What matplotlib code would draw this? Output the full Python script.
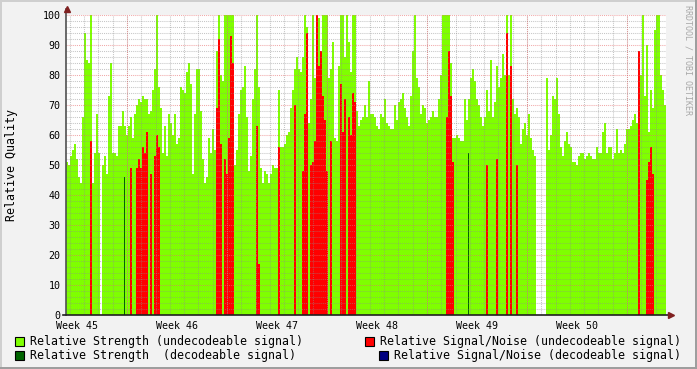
import numpy as np
import matplotlib.pyplot as plt
from matplotlib.patches import Rectangle

plt.rcParams['font.family'] = ['DejaVu Sans Mono']

# one value per 2-pixel column, 300 columns over the six weeks
strength = [
    51, 50, 53, 55, 57, 52, 46, 44, 66, 94, 85, 84, 100, 44, 54, 67, 54, 0, 50, 53, 47, 73, 84, 54, 54,
    53, 63, 63, 68, 63, 60, 63, 66, 59, 67, 70, 72, 71, 73, 72, 72, 67, 68, 75, 82, 100, 76, 69, 54, 63,
    53, 67, 64, 60, 67, 57, 59, 76, 75, 74, 81, 84, 77, 47, 67, 82, 82, 68, 52, 44, 46, 59, 54, 62, 55,
    88, 100, 80, 78, 100, 100, 100, 100, 100, 50, 55, 67, 75, 76, 83, 66, 48, 53, 72, 82, 100, 76, 49, 44, 48,
    47, 44, 47, 50, 49, 49, 75, 56, 56, 57, 60, 61, 69, 75, 82, 86, 82, 81, 86, 100, 96, 64, 72, 100, 79,
    100, 99, 82, 100, 100, 100, 79, 82, 91, 59, 58, 83, 100, 100, 86, 100, 91, 81, 100, 100, 68, 63, 65, 66, 70,
    66, 78, 67, 67, 66, 63, 62, 67, 66, 72, 64, 63, 62, 62, 70, 65, 71, 72, 74, 69, 66, 63, 73, 88, 100,
    79, 76, 67, 70, 69, 64, 65, 66, 68, 66, 66, 72, 80, 100, 100, 100, 100, 84, 59, 59, 60, 59, 58, 58, 72,
    65, 72, 79, 82, 78, 72, 70, 66, 63, 66, 75, 68, 85, 66, 71, 83, 76, 79, 87, 80, 100, 80, 100, 72, 67,
    69, 66, 57, 62, 64, 60, 67, 59, 55, 53, 0, 0, 0, 0, 0, 79, 55, 60, 73, 72, 79, 67, 56, 53, 58,
    61, 57, 56, 51, 51, 50, 53, 54, 54, 52, 53, 54, 53, 52, 52, 56, 54, 54, 61, 64, 54, 56, 56, 52, 54,
    62, 54, 55, 54, 57, 62, 62, 63, 65, 67, 64, 74, 80, 100, 73, 90, 61, 75, 69, 95, 100, 100, 80, 75, 70,
]

noise = [
    0, 0, 0, 0, 0, 0, 0, 0, 0, 0, 0, 0, 58, 0, 0, 0, 0, 0, 0, 0, 0, 0, 0, 0, 0,
    0, 0, 0, 0, 0, 0, 0, 49, 0, 0, 49, 52, 49, 56, 54, 61, 0, 47, 0, 53, 60, 56, 0, 0, 0,
    0, 0, 0, 0, 0, 0, 0, 0, 0, 0, 0, 0, 0, 0, 0, 0, 0, 0, 0, 0, 0, 0, 0, 0, 0,
    69, 92, 57, 0, 52, 47, 59, 93, 84, 0, 0, 0, 0, 0, 0, 0, 0, 0, 0, 0, 63, 17, 0, 0, 0,
    0, 0, 0, 0, 0, 0, 56, 0, 0, 0, 0, 0, 0, 0, 70, 0, 0, 0, 48, 67, 94, 0, 50, 51, 58,
    100, 83, 88, 73, 65, 48, 0, 58, 0, 0, 0, 0, 77, 61, 72, 0, 66, 60, 74, 71, 0, 0, 0, 0, 0,
    0, 0, 0, 0, 0, 0, 0, 0, 0, 0, 0, 0, 0, 0, 0, 0, 0, 0, 0, 0, 0, 0, 0, 0, 0,
    0, 0, 0, 0, 0, 0, 0, 0, 0, 0, 0, 0, 0, 0, 0, 66, 88, 73, 51, 0, 0, 0, 0, 0, 0,
    0, 0, 0, 0, 0, 0, 0, 0, 0, 0, 50, 0, 0, 0, 0, 52, 0, 0, 0, 0, 94, 0, 83, 0, 0,
    50, 0, 0, 0, 0, 0, 0, 0, 0, 0, 0, 0, 0, 0, 0, 0, 0, 0, 0, 0, 0, 0, 0, 0, 0,
    0, 0, 0, 0, 0, 0, 0, 0, 0, 0, 0, 0, 0, 0, 0, 0, 0, 0, 0, 0, 0, 0, 0, 0, 0,
    0, 0, 0, 0, 0, 0, 0, 0, 0, 0, 0, 88, 0, 0, 0, 45, 51, 56, 47, 0, 0, 0, 0, 0, 0,
]

# decodeable strength shows only in a few columns
dec_cols = [29, 201]
dec_vals = [46, 54]

week_labels = ['Week 45', 'Week 46', 'Week 47', 'Week 48', 'Week 49', 'Week 50']
week_pos = [11, 111, 211, 311, 411, 511]

W, H = 697, 369
fig = plt.figure(figsize=(W / 100, H / 100), dpi=100, facecolor='#f2f2f2')
ax = fig.add_axes([66 / W, 54 / H, 600 / W, 300 / H])
ax.set_facecolor('white')

x = np.arange(len(strength)) * 2
ax.bar(x, strength, width=2, align='edge', color='#7fff00', lw=0, antialiased=False, zorder=1)
ax.bar(x, noise, width=2, align='edge', color='#ff0000', lw=0, antialiased=False, zorder=2)
ax.bar(np.array(dec_cols) * 2, dec_vals, width=1, align='edge', color='#006400', lw=0,
       antialiased=False, zorder=3)

ax.set_xlim(0, 600)
ax.set_ylim(0, 100)

# grid: minor every day / 2 units, major every week / 10 units
dash = (0, (1, 1))
for d in np.arange(61 % (100 / 7), 600, 100 / 7):
    ax.axvline(d, color='#8f8f8f', alpha=0.5, lw=0.75, ls=dash, zorder=4)
for v in range(2, 101, 2):
    if v % 10:
        ax.axhline(v, color='#8f8f8f', alpha=0.5, lw=0.75, ls=dash, zorder=4)
for d in range(61, 600, 100):
    ax.axvline(d, color='#e87070', alpha=0.6, lw=0.75, ls=dash, zorder=5)
for v in range(10, 101, 10):
    ax.axhline(v, color='#e87070', alpha=0.6, lw=0.75, ls=dash, zorder=5)

ax.set_xticks(week_pos)
ax.set_xticklabels(week_labels)
ax.set_yticks(range(0, 101, 10))
ax.tick_params(length=0, labelsize=7.2, colors='black')
ax.tick_params(axis='y', pad=4)
ax.tick_params(axis='x', pad=4.5)
for s in ax.spines.values():
    s.set_visible(False)

# axes with arrows
ax.plot([0, 0], [0, 1.02], transform=ax.transAxes, color='#505050', lw=1.2, clip_on=False, zorder=6)
ax.plot([-0.005, 1.006], [0, 0], transform=ax.transAxes, color='#202020', lw=1.2, clip_on=False, zorder=6)
ax.plot([0.002], [1.02], marker='^', ms=5, color='#802020', transform=ax.transAxes, clip_on=False, zorder=7)
ax.plot([1.009], [0.0], marker='>', ms=5, color='#802020', transform=ax.transAxes, clip_on=False, zorder=7)

fig.text(12 / W, 1 - 165 / H, 'Relative Quality', rotation=90, ha='center', va='center', fontsize=8.4)
fig.text(688 / W, 1 - 60 / H, 'RRDTOOL / TOBI OETIKER', rotation=270, ha='center', va='center',
         fontsize=6, color='#a8a8a8')

# legend
legend = [
    (15, 341, '#7fff00', 'Relative Strength (undecodeable signal)'),
    (365, 341, '#ff0000', 'Relative Signal/Noise (undecodeable signal)'),
    (15, 355, '#006400', 'Relative Strength  (decodeable signal)'),
    (379, 355, '#000080', 'Relative Signal/Noise (decodeable signal)'),
]
for lx, ly, col, txt in legend:
    fig.patches.append(Rectangle((lx / W, 1 - (ly + 4.5) / H), 9 / W, 9 / H, transform=fig.transFigure,
                                 facecolor=col, edgecolor='black', lw=0.8))
    fig.text((lx + 15) / W, 1 - ly / H, txt, ha='left', va='center', fontsize=8.4)

# 3d frame
fig.patches.append(Rectangle((0, 0), 2 / W, 1, transform=fig.transFigure, color='#cfcfcf', lw=0))
fig.patches.append(Rectangle((0, 1 - 2 / H), 1, 2 / H, transform=fig.transFigure, color='#cfcfcf', lw=0))
fig.patches.append(Rectangle((1 - 2 / W, 0), 2 / W, 1, transform=fig.transFigure, color='#9e9e9e', lw=0))
fig.patches.append(Rectangle((0, 0), 1, 2 / H, transform=fig.transFigure, color='#9e9e9e', lw=0))

fig.savefig('out.png', dpi=100, facecolor=fig.get_facecolor())
